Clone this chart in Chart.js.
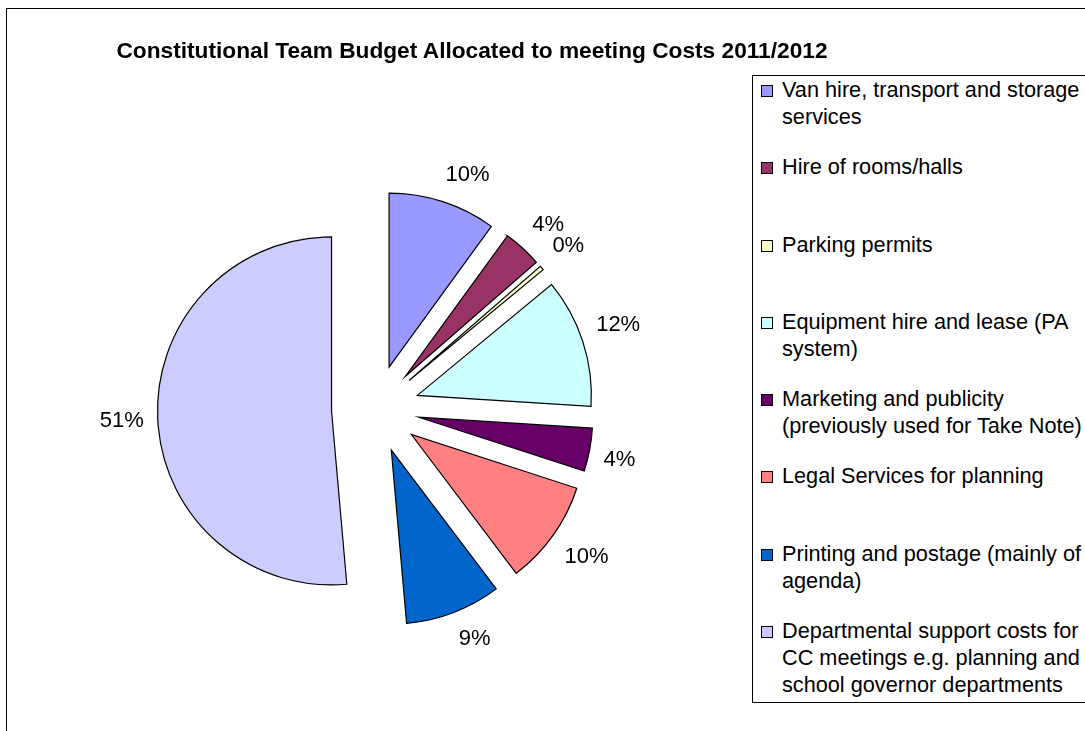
<!DOCTYPE html>
<html>
<head>
<meta charset="utf-8">
<title>Constitutional Team Budget</title>
<script src="https://cdn.jsdelivr.net/npm/chart.js@4.4.0/dist/chart.umd.min.js"></script>
<style>
    html, body { margin: 0; padding: 0; background: #fff; overflow: hidden; }
    #wrap { position: relative; width: 1085px; height: 731px; overflow: hidden; font-family: Arial, "Liberation Sans", sans-serif; color: #000; }
    #frame { position: absolute; left: 6px; top: 8px; width: 1300px; height: 900px; border: 1px solid #000; border-right: none; border-bottom: none; }
    #chart { position: absolute; left: 0; top: 0; }
    #title { position: absolute; left: 0; top: 37px; width: 944px; text-align: center; font-weight: bold; font-size: 22.7px; line-height: 26px; white-space: nowrap; }
    #legend { position: absolute; left: 752px; top: 75px; width: 700px; height: 626px; border: 1px solid #000; border-right: none; background: #fff; }
    .item { position: relative; height: 77.3px; }
    .sw { position: absolute; left: 8px; top: 9px; width: 10px; height: 10px; border: 1px solid #000; }
    .txt { position: absolute; left: 29px; top: 0; width: 14.6em; font-size: 21.7px; line-height: 27px; }
</style>
</head>
<body>
<div id="wrap">
    <div id="frame"></div>
    <canvas id="chart" width="1085" height="731"></canvas>
    <div id="title">Constitutional Team Budget Allocated to meeting Costs 2011/2012</div>
    <div id="legend"></div>
</div>
<script>
// categorias e percentuais
const categories = [
    'Van hire, transport and storage services',
    'Hire of rooms/halls',
    'Parking permits',
    'Equipment hire and lease (PA system)',
    'Marketing and publicity (previously used for Take Note)',
    'Legal Services for planning',
    'Printing and postage (mainly of agenda)',
    'Departmental support costs for CC meetings e.g. planning and school governor departments'
];
const shares = [10.0, 3.6, 0.4, 12.0, 4.0, 9.7, 8.9, 51.4];
const sliceColours = ['#9999FF', '#993366', '#FFFFCC', '#CCFFFF', '#660066', '#FF8080', '#0066CC', '#CCCCFF'];

const EXPLODE = 44;
const total = shares.reduce((a, b) => a + b, 0);
const pctText = shares.map(v => Math.round(v / total * 100) + '%');

// afasta cada fatia do centro (pizza explodida)
const explodePlugin = {
    id: 'explode',
    afterDatasetUpdate(chart, args) {
        args.meta.data.forEach(arc => {
            const mid = (arc.startAngle + arc.endAngle) / 2;
            arc.x += Math.cos(mid) * EXPLODE;
            arc.y += Math.sin(mid) * EXPLODE;
        });
    }
};

// rótulos de percentual fora de cada fatia
const labelPlugin = {
    id: 'pctLabels',
    afterDatasetsDraw(chart) {
        const ctx = chart.ctx;
        const arcs = chart.getDatasetMeta(0).data;
        const clamp = v => Math.max(-1, Math.min(1, v * 3));
        ctx.save();
        ctx.font = '22px Arial, "Liberation Sans", sans-serif';
        ctx.fillStyle = '#000';
        ctx.textAlign = 'center';
        ctx.textBaseline = 'middle';
        arcs.forEach((arc, i) => {
            const mid = (arc.startAngle + arc.endAngle) / 2;
            const dx = Math.cos(mid), dy = Math.sin(mid);
            const r = arc.outerRadius + 14;
            const halfW = ctx.measureText(pctText[i]).width / 2;
            const x = arc.x + dx * r + clamp(dx) * halfW;
            const y = arc.y + dy * r + clamp(dy) * 13;
            ctx.fillText(pctText[i], x, y);
        });
        ctx.restore();
    }
};

const ctx = document.getElementById('chart').getContext('2d');
const chart = new Chart(ctx, {
    type: 'pie',
    data: {
        labels: categories,
        datasets: [{
            data: shares,
            backgroundColor: sliceColours,
            borderColor: '#000',
            borderWidth: 1.2,
            borderJoinStyle: 'miter'
        }]
    },
    options: {
        responsive: false,
        animation: false,
        events: [],
        radius: 174,
        layout: { padding: { left: 0, right: 334, top: 87, bottom: 0 } },
        plugins: {
            legend: { display: false },
            title: { display: false },
            tooltip: { enabled: false }
        }
    },
    plugins: [explodePlugin, labelPlugin]
});

// legenda em HTML, com caixa e quebra de linha como no original
const legend = document.getElementById('legend');
legend.innerHTML = categories.map((c, i) => `
    <div class="item">
        <span class="sw" style="background:${sliceColours[i]}"></span>
        <div class="txt">${c}</div>
    </div>
`).join('');
</script>
</body>
</html>
